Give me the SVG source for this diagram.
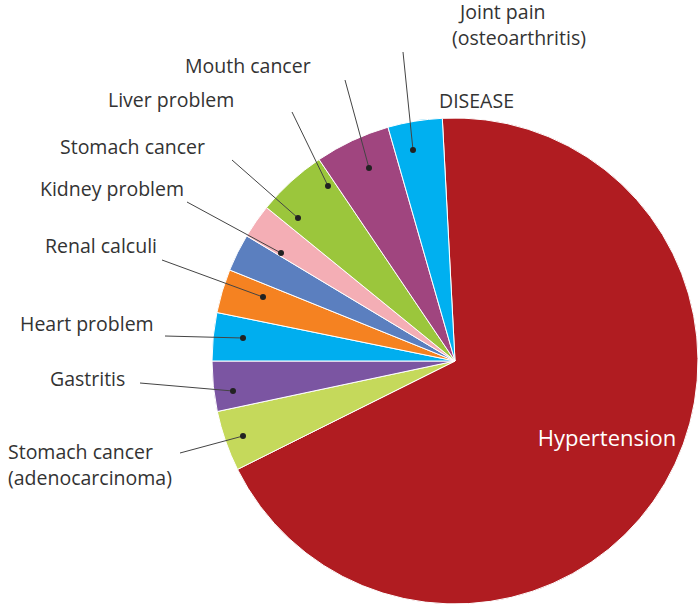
<svg xmlns="http://www.w3.org/2000/svg" width="700" height="604" viewBox="0 0 700 604">
<style>
.s{stroke:#fff;stroke-width:1}
.t{font-family:"Open Sans","Liberation Sans",sans-serif;font-size:19.5px;fill:#333}
.l{stroke:#444;stroke-width:1;fill:none}
.d{fill:#222}
</style>
<rect width="700" height="604" fill="#fff"/>
<g id="slices">
<path id="hypertension" class="s" fill="#b01c21" d="M455,361 L442.3,118.3 A243,243 0 1,1 237.5,469.4 Z"/>
<path id="stomach-adeno" class="s" fill="#c5d95b" d="M455,361 L237.5,469.4 A243,243 0 0,1 217.3,411.5 Z"/>
<path id="gastritis" class="s" fill="#7b55a2" d="M455,361 L217.3,411.5 A243,243 0 0,1 212,361 Z"/>
<path id="heart" class="s" fill="#00aeef" d="M455,361 L212,361 A243,243 0 0,1 216.9,312.5 Z"/>
<path id="renal" class="s" fill="#f58221" d="M455,361 L216.9,312.5 A243,243 0 0,1 229.7,270 Z"/>
<path id="kidney" class="s" fill="#5b7fbf" d="M455,361 L229.7,270 A243,243 0 0,1 246.7,235.9 Z"/>
<path id="stomach" class="s" fill="#f4aeb5" d="M455,361 L246.7,235.9 A243,243 0 0,1 266.5,207.5 Z"/>
<path id="liver" class="s" fill="#9bc63c" d="M455,361 L266.5,207.5 A243,243 0 0,1 319.1,159.5 Z"/>
<path id="mouth" class="s" fill="#a0457f" d="M455,361 L319.1,159.5 A243,243 0 0,1 388,127.2 Z"/>
<path id="joint" class="s" fill="#00b0f0" d="M455,361 L388,127.2 A243,243 0 0,1 442.3,118.3 Z"/>
</g>
<g id="connectors">
<path class="l" d="M403,52 L413,150"/><circle class="d" cx="413" cy="150" r="3"/>
<path class="l" d="M345,80 L369,168"/><circle class="d" cx="369" cy="168" r="3"/>
<path class="l" d="M292,112 L328,186"/><circle class="d" cx="328" cy="186" r="3"/>
<path class="l" d="M232,160 L298,218"/><circle class="d" cx="298" cy="218" r="3"/>
<path class="l" d="M187,202 L281,253"/><circle class="d" cx="281" cy="253" r="3"/>
<path class="l" d="M162,260 L263,297"/><circle class="d" cx="263" cy="297" r="3"/>
<path class="l" d="M165,336 L243,338"/><circle class="d" cx="243" cy="338" r="3"/>
<path class="l" d="M140,383 L233,391"/><circle class="d" cx="233" cy="391" r="3"/>
<path class="l" d="M180,453 L243,436"/><circle class="d" cx="243" cy="436" r="3"/>
</g>
<g id="labels">
<text class="t" x="460" y="19" font-size="18">Joint pain</text>
<text class="t" x="452" y="45">(osteoarthritis)</text>
<text class="t" x="439" y="108">DISEASE</text>
<text class="t" x="185" y="73">Mouth cancer</text>
<text class="t" x="108" y="107">Liver problem</text>
<text class="t" x="60" y="154">Stomach cancer</text>
<text class="t" x="40" y="196">Kidney problem</text>
<text class="t" x="45" y="253">Renal calculi</text>
<text class="t" x="20" y="331">Heart problem</text>
<text class="t" x="50" y="386">Gastritis</text>
<text class="t" x="8" y="459">Stomach cancer</text>
<text class="t" x="8" y="485">(adenocarcinoma)</text>
<text x="607" y="446" text-anchor="middle" style="font-family:'Open Sans','Liberation Sans',sans-serif;font-size:22px;fill:#fff">Hypertension</text>
</g>
</svg>
